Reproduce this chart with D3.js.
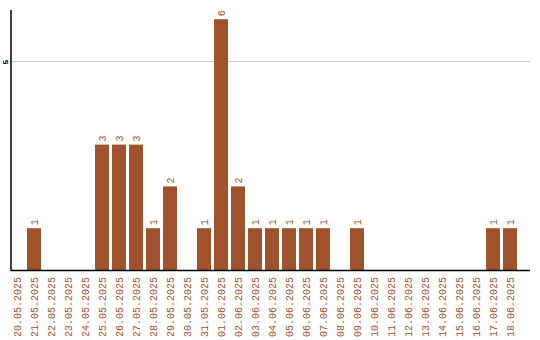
<!DOCTYPE html>
<html>
<head>
<meta charset="utf-8">
<script src="https://cdn.jsdelivr.net/npm/d3@7"></script>
<style>
  body { margin: 0; background: #fff; }
  svg { display: block; }
</style>
</head>
<body>
<svg id="chart" width="540" height="340"></svg>
<script>
// categories (days) and counts
const days = [
  '20.05.2025', '21.05.2025', '22.05.2025', '23.05.2025', '24.05.2025',
  '25.05.2025', '26.05.2025', '27.05.2025', '28.05.2025', '29.05.2025',
  '30.05.2025', '31.05.2025', '01.06.2025', '02.06.2025', '03.06.2025',
  '04.06.2025', '05.06.2025', '06.06.2025', '07.06.2025', '08.06.2025',
  '09.06.2025', '10.06.2025', '11.06.2025', '12.06.2025', '13.06.2025',
  '14.06.2025', '15.06.2025', '16.06.2025', '17.06.2025', '18.06.2025'
];
const counts = [0, 1, 0, 0, 0, 3, 3, 3, 1, 2, 0, 1, 6, 2, 1, 1, 1, 1, 1, 0, 1, 0, 0, 0, 0, 0, 0, 0, 1, 1];
const yTicks = [5];

const color = '#a0522d';
const font = '"Liberation Mono", "DejaVu Sans Mono", monospace';

const svg = d3.select('#chart');
const plot = { left: 11, right: 530, top: 10, bottom: 270 };

const x = d3.scaleBand()
  .domain(days)
  .range([8.5, 518.5])
  .paddingInner(3 / 17)
  .paddingOuter(1.5 / 17);

const y = d3.scaleLinear()
  .domain([0, 6.22])
  .range([plot.bottom, plot.top]);

// gridlines
svg.append('g')
  .selectAll('line')
  .data(yTicks)
  .enter()
  .append('line')
  .attr('x1', plot.left)
  .attr('x2', plot.right)
  .attr('y1', d => Math.round(y(d)) + 0.5)
  .attr('y2', d => Math.round(y(d)) + 0.5)
  .attr('stroke', '#c8c8c8')
  .attr('stroke-width', 1);

// y tick labels
svg.append('g')
  .selectAll('text')
  .data(yTicks)
  .enter()
  .append('text')
  .attr('transform', d => `translate(8,${y(d) + 1}) rotate(-90)`)
  .attr('text-anchor', 'middle')
  .attr('font-family', font)
  .attr('font-size', '8px')
  .attr('font-weight', 'bold')
  .attr('fill', '#000')
  .text(d => d);

const bars = days.map((day, i) => ({ day, v: counts[i] })).filter(d => d.v > 0);

// bars
svg.append('g')
  .selectAll('rect')
  .data(bars)
  .enter()
  .append('rect')
  .attr('x', d => x(d.day))
  .attr('width', x.bandwidth())
  .attr('y', d => y(d.v))
  .attr('height', d => y(0) - y(d.v))
  .attr('fill', color);

// value labels
svg.append('g')
  .selectAll('text')
  .data(bars)
  .enter()
  .append('text')
  .attr('transform', d => `translate(${x(d.day) + x.bandwidth() / 2 + 3.5},${y(d.v) - 3}) rotate(-90)`)
  .attr('text-anchor', 'start')
  .attr('font-family', font)
  .attr('font-size', '10px')
  .attr('fill', color)
  .text(d => d.v);

// x tick labels
svg.append('g')
  .selectAll('text')
  .data(days)
  .enter()
  .append('text')
  .attr('transform', d => `translate(${x(d) + x.bandwidth() / 2 + 3.5},${plot.bottom + 7}) rotate(-90)`)
  .attr('text-anchor', 'end')
  .attr('font-family', font)
  .attr('font-size', '10px')
  .attr('fill', color)
  .text(d => d);

// axis lines
svg.append('line')
  .attr('x1', plot.left).attr('x2', plot.left)
  .attr('y1', plot.top).attr('y2', plot.bottom + 1)
  .attr('stroke', '#000').attr('stroke-width', 1.5);
svg.append('line')
  .attr('x1', plot.left).attr('x2', plot.right)
  .attr('y1', plot.bottom + 0.5).attr('y2', plot.bottom + 0.5)
  .attr('stroke', '#000').attr('stroke-width', 1.5);
</script>
</body>
</html>
